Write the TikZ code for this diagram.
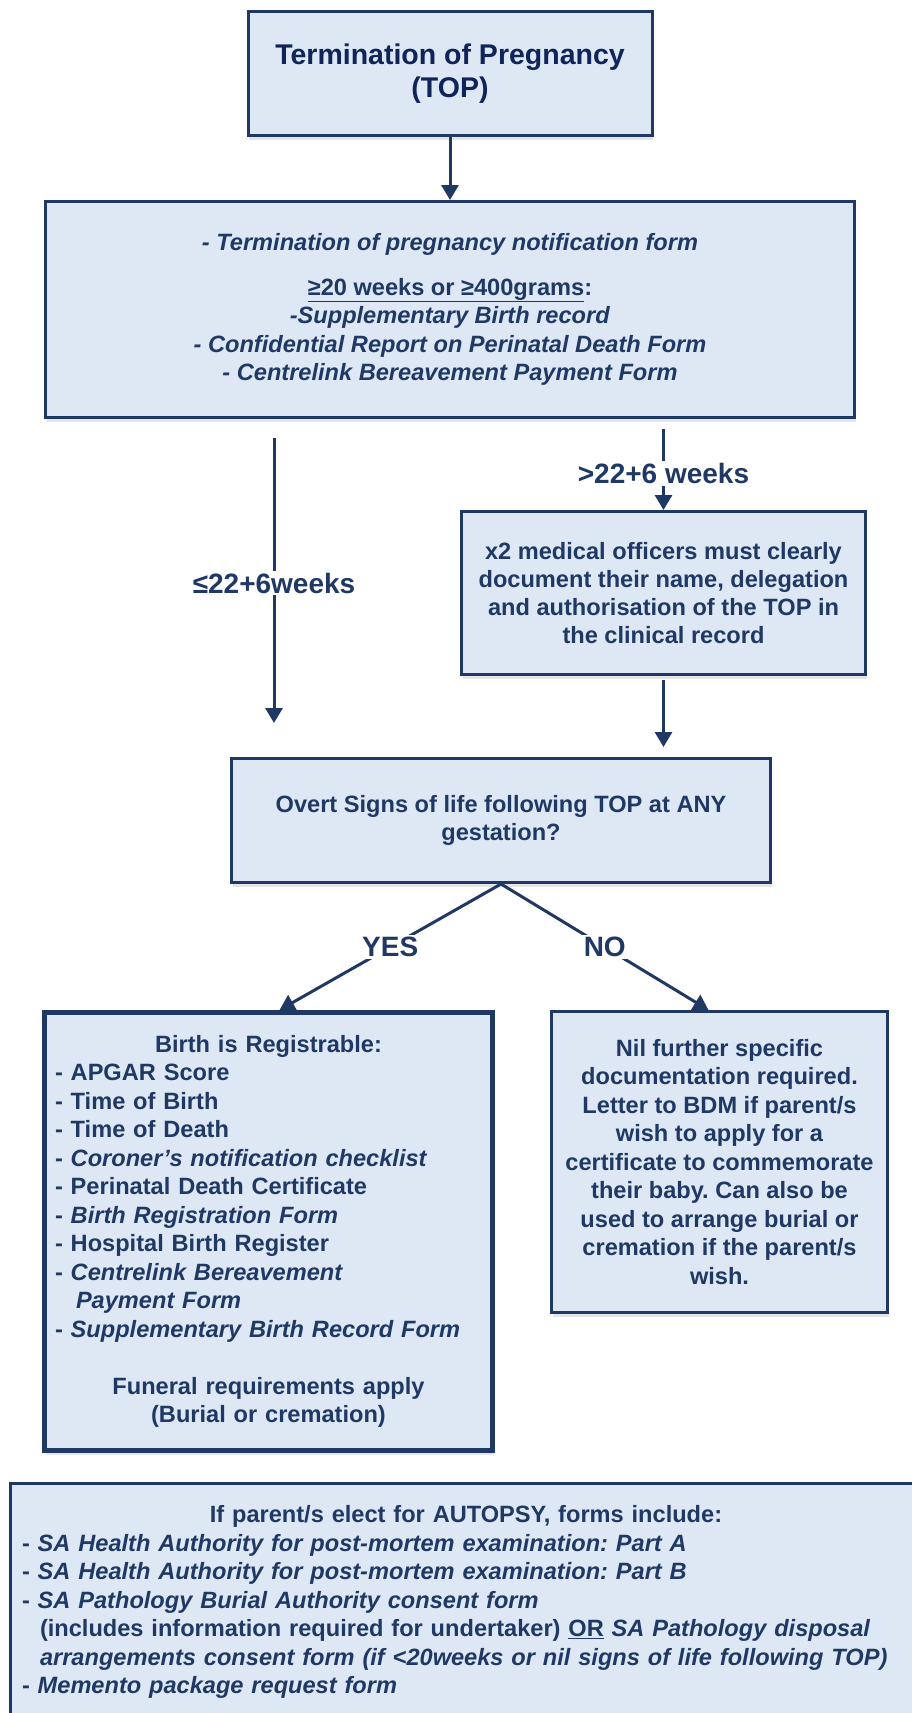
\documentclass[tikz,border=0pt]{standalone}
\usepackage{fontspec}
\setmainfont{Liberation Sans}
\usepackage{tikz}
\usetikzlibrary{arrows.meta,calc,positioning,shadows}
\frenchspacing

\definecolor{navy}{HTML}{1F3864}
\definecolor{titlenavy}{HTML}{11245A}
\definecolor{boxfill}{HTML}{DDE8F4}

\tikzset{
    box/.style={draw=navy, line width=3pt, fill=boxfill, inner sep=0pt, text=navy,
        font=\fontsize{23.6}{28.5}\selectfont\bfseries, align=center,
        drop shadow={shadow xshift=1pt, shadow yshift=-4pt, fill=black, opacity=0.10}},
    flow/.style={draw=navy, line width=3pt, -{Triangle[length=15pt,width=17pt]}},
    tag/.style={fill=white, text=navy, inner sep=2pt, font=\fontsize{28}{33}\selectfont\bfseries},
}

\begin{document}
\begin{tikzpicture}[x=1pt, y=-1pt]
    \useasboundingbox (0,0) rectangle (911,1713);

    % TOP
    \node[box, minimum width=404, minimum height=124, text=titlenavy,
          font=\fontsize{28.5}{33.5}\selectfont\bfseries] (top) at (450,73.5)
        {Termination of Pregnancy\\(TOP)};

    % forms for every TOP
    \node[box, minimum width=809, minimum height=216] (form) at (450,309.5)
        {\textit{- Termination of pregnancy notification form}\\[16pt]
         \underline{≥20 weeks or ≥400grams}:\\
         \textit{-Supplementary Birth record}\\
         \textit{- Confidential Report on Perinatal Death Form}\\
         \textit{- Centrelink Bereavement Payment Form}};

    \node[box, minimum width=404, minimum height=163,
          font=\fontsize{23.6}{27.8}\selectfont\bfseries] (officers) at (663.5,593)
        {x2 medical officers must clearly\\document their name, delegation\\and authorisation of the TOP in\\the clinical record};

    \node[box, minimum width=539, minimum height=124] (decision) at (501,820.5)
        {Overt Signs of life following TOP at ANY\\gestation?};

    % YES / NO outcomes
    \node[box, line width=5pt, minimum width=448, minimum height=438,
          text width=427, align=left] (yesbox) at (268.5,1231.5)
        {{\centering Birth is Registrable:\par}
         - APGAR Score\\
         - Time of Birth\\
         - Time of Death\\
         - \textit{Coroner’s notification checklist}\\
         - Perinatal Death Certificate\\
         - \textit{Birth Registration Form}\\
         - Hospital Birth Register\\
         - \textit{Centrelink Bereavement}\\
         \hspace*{21pt}\textit{Payment Form}\\
         - \textit{Supplementary Birth Record Form}\par
         \vspace{28.5pt}
         {\centering Funeral requirements apply\\(Burial or cremation)\par}};

    \node[box, minimum width=336, minimum height=301] (nobox) at (719.5,1162)
        {Nil further specific\\documentation required.\\Letter to BDM if parent/s\\wish to apply for a\\certificate to commemorate\\their baby. Can also be\\used to arrange burial or\\cremation if the parent/s\\wish.};

    % autopsy forms (runs off the page)
    \node[box, minimum width=911, minimum height=237,
          text width=888, align=left] (autopsy) at (466,1602)
        {{\centering If parent/s elect for AUTOPSY, forms include:\par}
         - \textit{SA Health Authority for post-mortem examination: Part A}\\
         - \textit{SA Health Authority for post-mortem examination: Part B}\\
         - \textit{SA Pathology Burial Authority consent form}\\
         \hspace*{18pt}(includes information required for undertaker) \underline{OR} \textit{SA Pathology disposal}\\
         \hspace*{18pt}\textit{arrangements consent form (if <20weeks or nil signs of life following TOP)}\\
         - \textit{Memento package request form}};

    % connectors
    \coordinate (lefttip) at (274,723);
    \draw[flow] (top) -- (form);
    \draw[flow, shorten <=19pt] (form.south -| lefttip) -- node[tag, pos=0.54] {≤22+6weeks} (lefttip);
    \draw[flow, shorten <=10pt] (form.south -| officers.north) -- node[tag, pos=0.6] {>22+6 weeks} (officers.north);
    \draw[flow, shorten <=4pt, shorten >=10pt] (officers.south) -- (officers.south |- decision.north);
    \draw[flow] (decision.south) -- node[tag] {YES} ([xshift=11pt]yesbox.north);
    \draw[flow] (decision.south) -- node[tag] {NO} ([xshift=-11pt]nobox.north);

\end{tikzpicture}
\end{document}
